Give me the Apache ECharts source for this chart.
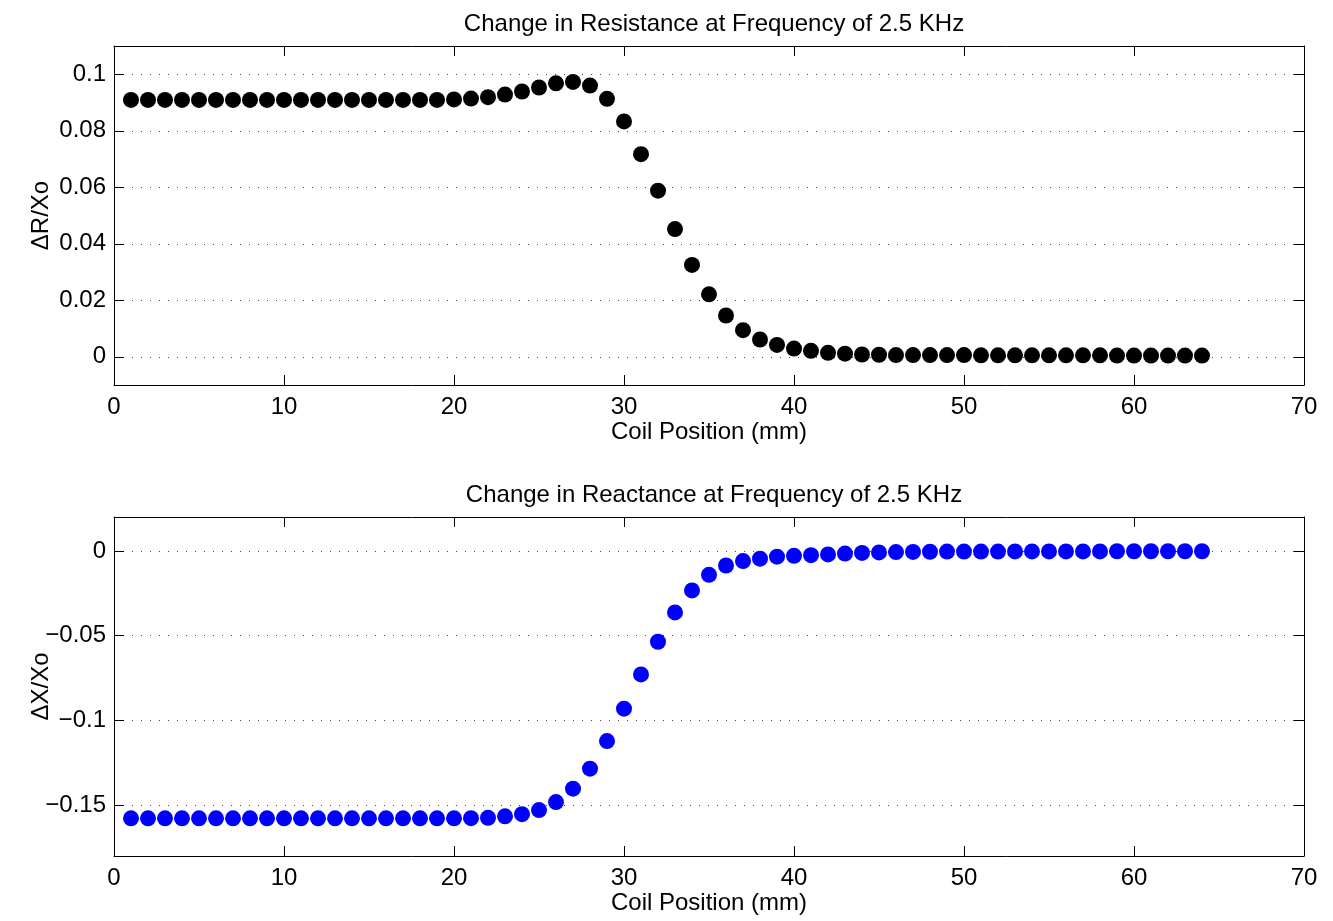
<!DOCTYPE html>
<html>
<head>
<meta charset="utf-8">
<script src="https://cdn.jsdelivr.net/npm/echarts@6/dist/echarts.min.js"></script>
<style>
html,body{margin:0;padding:0;background:#fff;}
#chart{width:1333px;height:921px;}
</style>
</head>
<body>
<div id="chart"></div>
<script>
// ---- data ----
var coilPosition = [1,2,3,4,5,6,7,8,9,10,11,12,13,14,15,16,17,18,19,20,21,22,23,24,25,26,27,28,29,30,31,32,33,34,35,36,37,38,39,40,41,42,43,44,45,46,47,48,49,50,51,52,53,54,55,56,57,58,59,60,61,62,63,64];
var resistance = [
  0.0909,0.0909,0.0909,0.0909,0.0909,0.0909,0.0909,0.0909,0.0909,0.0909,
  0.0909,0.0909,0.0909,0.0909,0.0909,0.0909,0.0909,0.0909,0.0909,0.0911,
  0.0914,0.0919,0.0928,0.0939,0.0953,0.0968,0.0973,0.0960,0.0913,0.0833,
  0.0717,0.0588,0.0452,0.0325,0.0221,0.0146,0.0094,0.0061,0.0042,0.0029,
  0.0021,0.0014,0.0011,0.0008,0.0007,0.0006,0.0006,0.0006,0.0006,0.0006,
  0.0005,0.0005,0.0005,0.0005,0.0005,0.0005,0.0005,0.0005,0.0004,0.0004,
  0.0004,0.0004,0.0004,0.0004
];
var reactance = [
  -0.1578,-0.1578,-0.1578,-0.1578,-0.1578,-0.1578,-0.1578,-0.1578,-0.1578,-0.1578,
  -0.1578,-0.1578,-0.1578,-0.1578,-0.1578,-0.1578,-0.1578,-0.1578,-0.1578,-0.1578,
  -0.1577,-0.1575,-0.1566,-0.1553,-0.1529,-0.1482,-0.1403,-0.1285,-0.1122,-0.0931,
  -0.0729,-0.0536,-0.0363,-0.0233,-0.0141,-0.0086,-0.0060,-0.0046,-0.0034,-0.0029,
  -0.0025,-0.0021,-0.0016,-0.0012,-0.0009,-0.0007,-0.0006,-0.0005,-0.0004,-0.0004,
  -0.0004,-0.0004,-0.0003,-0.0003,-0.0003,-0.0003,-0.0003,-0.0003,-0.0002,-0.0002,
  -0.0002,-0.0002,-0.0002,-0.0002
];
var resistanceTicks = [0, 0.02, 0.04, 0.06, 0.08, 0.1];
var reactanceTicks = [-0.15, -0.1, -0.05, 0];
var titles = ['Change in Resistance at Frequency of 2.5 KHz', 'Change in Reactance at Frequency of 2.5 KHz'];
var xName = 'Coil Position (mm)';
var yNames = ['\u0394R/Xo', '\u0394X/Xo'];

// ---- chart ----
var FONT = 'Liberation Sans, Arial, Helvetica, sans-serif';
var FS = 24;
function fmt(v) {
  var s = String(Math.round(v * 10000) / 10000);
  return v < 0 ? '\u2212' + s.slice(1) : s;
}
function pair(arr) { return arr.map(function (v, i) { return [coilPosition[i], v]; }); }

var grids = [
  {left: 114, width: 1190, top: 46, height: 339},
  {left: 114, width: 1190, top: 517, height: 339}
];
var yRanges = [[-0.01, 0.11], [-0.18, 0.02]];
var yTicks = [resistanceTicks, reactanceTicks];

var xAxes = [], yAxes = [];
[0, 1].forEach(function (g) {
  xAxes.push({
    type: 'value', gridIndex: g, min: 0, max: 70, interval: 10,
    name: xName, nameLocation: 'middle', nameGap: 35, nameMoveOverlap: false,
    nameTextStyle: {color: '#000', fontFamily: FONT, fontSize: FS},
    axisLine: {show: true, onZero: false, lineStyle: {color: '#000', width: 1}},
    axisTick: {show: true, inside: true, length: 10, lineStyle: {color: '#000'}},
    axisLabel: {color: '#000', fontFamily: FONT, fontSize: FS, margin: 10},
    splitLine: {show: false}
  });
  xAxes.push({
    type: 'value', gridIndex: g, min: 0, max: 70, interval: 10, position: 'top',
    axisLine: {show: true, onZero: false, lineStyle: {color: '#000', width: 1}},
    axisTick: {show: true, inside: true, length: 10, lineStyle: {color: '#000'}},
    axisLabel: {show: false}, splitLine: {show: false}
  });
  yAxes.push({
    type: 'value', gridIndex: g, min: yRanges[g][0], max: yRanges[g][1],
    name: yNames[g], nameLocation: 'middle', nameGap: 61, nameRotate: 90, nameMoveOverlap: false,
    nameTextStyle: {color: '#000', fontFamily: FONT, fontSize: FS},
    axisLine: {show: true, onZero: false, lineStyle: {color: '#000', width: 1}},
    axisTick: {show: true, inside: true, length: 10, customValues: yTicks[g], lineStyle: {color: '#000'}},
    axisLabel: {color: '#000', fontFamily: FONT, fontSize: FS, margin: 8, customValues: yTicks[g], formatter: fmt},
    splitLine: {show: true, lineStyle: {color: '#444', width: 1, type: [1, 8]}}
  });
  yAxes.push({
    type: 'value', gridIndex: g, min: yRanges[g][0], max: yRanges[g][1], position: 'right',
    axisLine: {show: true, onZero: false, lineStyle: {color: '#000', width: 1}},
    axisTick: {show: true, inside: true, length: 10, customValues: yTicks[g], lineStyle: {color: '#000'}},
    axisLabel: {show: false}, splitLine: {show: false}
  });
});

var option = {
  backgroundColor: '#fff',
  animation: false,
  title: [
    {text: titles[0], left: 709, top: 7, textAlign: 'center',
     textStyle: {color: '#000', fontFamily: FONT, fontSize: FS, fontWeight: 'normal'}},
    {text: titles[1], left: 709, top: 478, textAlign: 'center',
     textStyle: {color: '#000', fontFamily: FONT, fontSize: FS, fontWeight: 'normal'}}
  ],
  grid: grids,
  xAxis: xAxes,
  yAxis: yAxes,
  series: [
    {type: 'scatter', xAxisIndex: 0, yAxisIndex: 0, data: pair(resistance),
     symbol: 'circle', symbolSize: 16, itemStyle: {color: '#000', opacity: 1}},
    {type: 'scatter', xAxisIndex: 2, yAxisIndex: 2, data: pair(reactance),
     symbol: 'circle', symbolSize: 16, itemStyle: {color: '#0000ff', opacity: 1}}
  ]
};
var chart = echarts.init(document.getElementById('chart'), null, {renderer: 'canvas'});
chart.setOption(option);
</script>
</body>
</html>
